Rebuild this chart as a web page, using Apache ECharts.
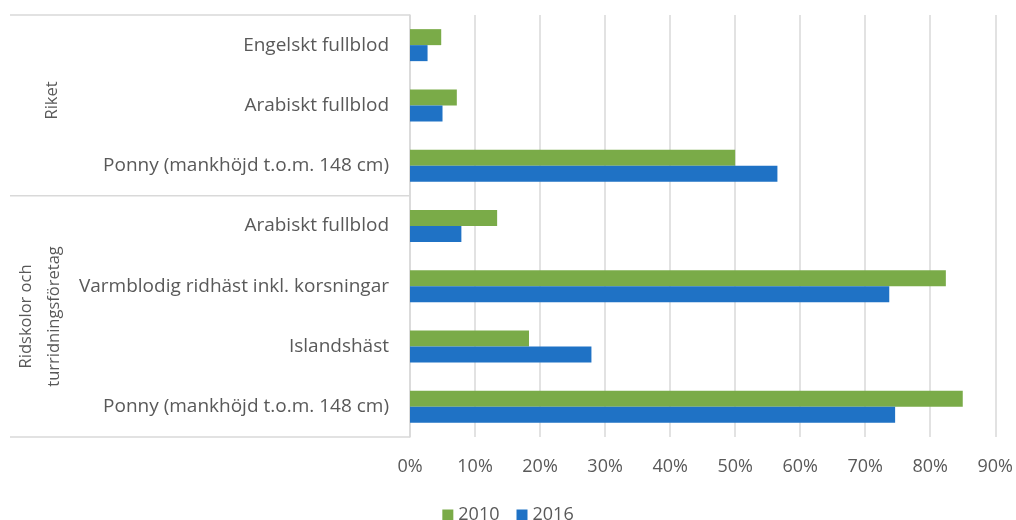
<!DOCTYPE html>
<html>
<head>
<meta charset="utf-8">
<script src="https://cdn.jsdelivr.net/npm/echarts@6/dist/echarts.min.js"></script>
<style>
  html, body { margin: 0; padding: 0; background: #fff; }
  #main { width: 1016px; height: 520px; }
</style>
</head>
<body>
<div id="main"></div>
<script>
  // kategorier uppifrån och ned
  const categories = [
    'Engelskt fullblod',
    'Arabiskt fullblod',
    'Ponny (mankhöjd t.o.m. 148 cm)',
    'Arabiskt fullblod',
    'Varmblodig ridhäst inkl. korsningar',
    'Islandshäst',
    'Ponny (mankhöjd t.o.m. 148 cm)'
  ]
  const groups = [
    { name: 'Riket', size: 3 },
    { name: 'Ridskolor och\nturridningsföretag', size: 4 }
  ]
  const values2010 = [4.8, 7.2, 50.0, 13.4, 82.4, 18.3, 85.0]
  const values2016 = [2.7, 5.0, 56.5, 7.9, 73.7, 27.9, 74.6]
  const xTicks = [0, 10, 20, 30, 40, 50, 60, 70, 80, 90]

  const font = 'Open Sans'
  const textColor = '#595959'
  const lineColor = '#d9d9d9'

  const chart = echarts.init(document.getElementById('main'))

  chart.setOption({
    animation: false,
    textStyle: { fontFamily: font },
    grid: { left: 410, right: 19, top: 15, bottom: 83, containLabel: false },
    legend: {
      top: 501,
      left: 'center',
      itemWidth: 11,
      itemHeight: 11,
      itemGap: 17,
      icon: 'rect',
      textStyle: { color: textColor, fontSize: 18, fontFamily: font },
      data: ['2010', '2016']
    },
    xAxis: {
      type: 'value',
      min: xTicks[0],
      max: xTicks[xTicks.length - 1],
      interval: 10,
      axisLine: { show: false },
      axisTick: { show: false },
      axisLabel: { formatter: '{value}%', color: textColor, fontSize: 18, margin: 21 },
      splitLine: { lineStyle: { color: lineColor, width: 1.5 } }
    },
    yAxis: {
      type: 'category',
      inverse: true,
      data: categories,
      axisLine: { show: true, lineStyle: { color: lineColor, width: 1.5 } },
      axisTick: { show: false },
      axisLabel: { color: textColor, fontSize: 19, margin: 21 }
    },
    series: [
      {
        name: '2010',
        type: 'bar',
        data: values2010,
        barWidth: 16,
        barGap: '0%',
        itemStyle: { color: '#7aab48' }
      },
      {
        name: '2016',
        type: 'bar',
        data: values2016,
        barWidth: 16,
        itemStyle: { color: '#1f72c5' }
      }
    ]
  })

  // gruppramar och gruppetiketter till vänster
  function drawGroups() {
    const y0 = chart.convertToPixel({ yAxisIndex: 0 }, categories[0])
    const band = chart.convertToPixel({ yAxisIndex: 0 }, 1) - y0
    const axisX = 410
    const elements = []
    let start = 0
    const top = y0 - band / 2
    elements.push({
      type: 'line', shape: { x1: 10, y1: top, x2: axisX, y2: top },
      style: { stroke: lineColor, lineWidth: 1.5 }, silent: true
    })
    groups.forEach(g => {
      const yStart = top + start * band
      const yEnd = top + (start + g.size) * band
      const lines = g.name.split('\n').length
      elements.push({
        type: 'line', shape: { x1: 10, y1: yEnd, x2: axisX, y2: yEnd },
        style: { stroke: lineColor, lineWidth: 1.5 }, silent: true
      })
      elements.push({
        type: 'text',
        x: 52 - (lines - 1) * 12,
        y: (yStart + yEnd) / 2 - (lines === 1 ? 5 : 0),
        rotation: Math.PI / 2,
        style: {
          text: g.name, fill: textColor, font: '16.5px "' + font + '"',
          align: 'center', verticalAlign: 'middle', lineHeight: 28
        },
        silent: true
      })
      start += g.size
    })
    chart.setOption({ graphic: { elements: elements } })
  }
  drawGroups()
</script>
</body>
</html>
